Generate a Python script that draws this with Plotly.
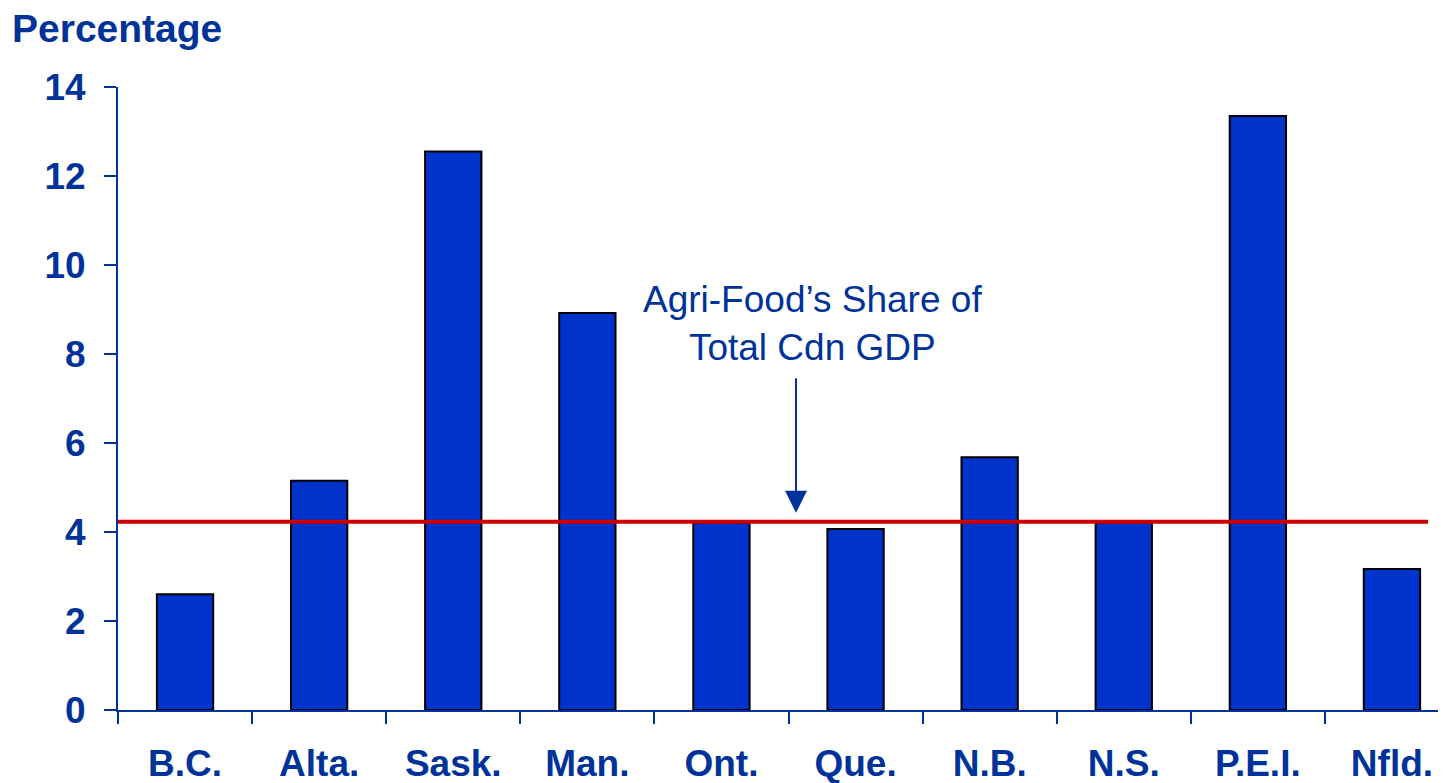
import plotly.graph_objects as go

provinces = ["B.C.", "Alta.", "Sask.", "Man.", "Ont.", "Que.", "N.B.", "N.S.", "P.E.I.", "Nfld."]
agrifood_share = [2.6, 5.15, 12.55, 8.92, 4.2, 4.07, 5.68, 4.2, 13.35, 3.17]
national_share = 4.23
y_ticks = [0, 2, 4, 6, 8, 10, 12, 14]

BLUE_TEXT = "#003399"
BAR_BLUE = "#0033CC"
RED = "#CC0000"
FONT = "Arial, Liberation Sans, sans-serif"

# the page puts the figure 8px in from the top-left corner
W, H = 1438, 775

fig = go.Figure()
fig.add_trace(go.Bar(
    x=provinces,
    y=agrifood_share,
    width=0.42,
    marker=dict(color=BAR_BLUE, line=dict(color="black", width=2)),
    showlegend=False,
))

# national average line
fig.add_shape(
    type="line", xref="x", yref="y",
    x0=-0.5, x1=9.27, y0=national_share, y1=national_share,
    line=dict(color=RED, width=4),
)

fig.add_annotation(
    x=4.68, y=8.68, xref="x", yref="y",
    text="Agri-Food’s Share of<br>Total Cdn GDP",
    showarrow=False,
    font=dict(family=FONT, size=37, color=BLUE_TEXT),
)
fig.add_annotation(
    x=4.556, y=national_share + 0.2, xref="x", yref="y",
    ax=0, ay=-136, text="",
    showarrow=True, arrowhead=2, arrowsize=2.2, arrowwidth=2, arrowcolor=BLUE_TEXT,
)

fig.update_layout(
    width=W,
    height=H,
    margin=dict(l=110, r=0, t=79, b=73),
    plot_bgcolor="white",
    paper_bgcolor="white",
    title=dict(
        text="<b>Percentage</b>",
        x=4 / W, xanchor="left", xref="container",
        y=1 - 20 / H, yanchor="middle", yref="container",
        font=dict(family=FONT, size=39, color=BLUE_TEXT),
    ),
    font=dict(family=FONT, color=BLUE_TEXT),
)
fig.update_xaxes(
    range=[-0.5, 9.403],
    automargin=False,
    showline=True, linecolor=BLUE_TEXT, linewidth=2,
    ticks="outside", tickson="boundaries", ticklen=12, tickwidth=2, tickcolor=BLUE_TEXT,
    tickfont=dict(family=FONT, size=37, color=BLUE_TEXT, weight="bold"),
    ticklabelstandoff=20,
    showgrid=False,
)
fig.update_yaxes(
    range=[0, 14],
    tickvals=y_ticks,
    automargin=False,
    showline=True, linecolor=BLUE_TEXT, linewidth=2,
    ticks="outside", ticklen=12, tickwidth=2, tickcolor=BLUE_TEXT,
    tickfont=dict(family=FONT, size=37, color=BLUE_TEXT, weight="bold"),
    ticklabelstandoff=11,
    showgrid=False, zeroline=False,
)

fig.write_html("out.html")
